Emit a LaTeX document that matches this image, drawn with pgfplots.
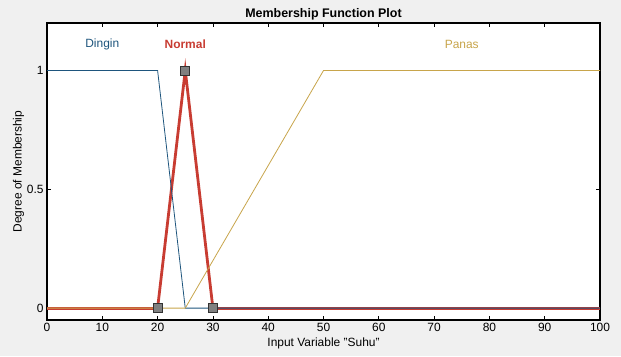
\documentclass[border=0pt]{standalone}
\usepackage{pgfplots}
\pgfplotsset{compat=1.18}
\usepackage{fontspec}
\setmainfont{Liberation Sans}
\definecolor{bgc}{RGB}{240,240,240}
\definecolor{dingin}{RGB}{30,85,125}
\definecolor{panas}{RGB}{200,165,75}
\definecolor{normal}{RGB}{200,60,50}
\begin{document}
\begin{tikzpicture}[x=1bp,y=1bp]
\fill[bgc] (0,0) rectangle (621,356);
\begin{axis}[
  at={(47bp,36bp)}, anchor=south west,
  scale only axis, width=553bp, height=297bp,
  xmin=0, xmax=100, ymin=-0.05, ymax=1.2,
  xtick={0,10,...,100}, ytick={0,0.5,1},
  yticklabels={0,0.5,1},
  tick align=inside,
  major tick length=4bp,
  axis line style={line width=1.3pt},
  tick style={line width=0.8pt, black},
  axis background/.style={fill=white},
  font=\fontsize{12}{14}\selectfont,
  /pgf/number format/assume math mode=true,
  ticklabel style={font=\fontsize{12}{14}\selectfont},
  title={\bfseries Membership Function Plot},
  title style={font=\fontsize{12.5}{14}\selectfont, yshift=-7bp},
  xlabel={Input Variable ''Suhu''},
  ylabel={Degree of Membership},
  xlabel style={yshift=1bp},
  ylabel style={yshift=-4bp},
  clip=true,
]
\addplot[normal, line width=2.8pt, mark=square*, mark size=4.5bp,
  mark options={fill=gray, draw=black!80, line width=0.8pt}] coordinates {(20,0) (25,1) (30,0)};
\addplot[normal, line width=2.8pt] coordinates {(0,0) (20,0)};
\addplot[normal, line width=2.8pt] coordinates {(30,0) (100,0)};
\addplot[dingin, line width=0.8pt] coordinates {(0,1) (20,1) (25,0) (100,0)};
\addplot[panas, line width=0.8pt] coordinates {(0,0) (25,0) (50,1) (100,1)};
\addplot[normal, line width=2.8pt, mark=square*, mark size=4.5bp,
  mark options={fill=gray, draw=black!80, line width=0.8pt}] coordinates {(25,1)};
\node[dingin, font=\fontsize{12}{14}\selectfont] at (axis cs:10,1.11) {Dingin};
\node[normal, font=\bfseries\fontsize{12}{14}\selectfont] at (axis cs:25,1.11) {Normal};
\node[panas, font=\fontsize{12}{14}\selectfont] at (axis cs:75,1.11) {Panas};
\end{axis}
\end{tikzpicture}
\end{document}
